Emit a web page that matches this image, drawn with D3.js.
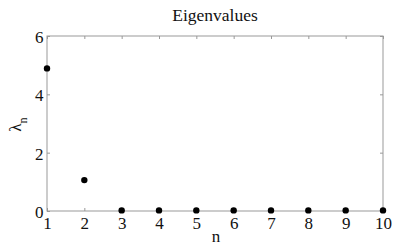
<!DOCTYPE html>
<html><head><meta charset="utf-8">
<script src="https://cdn.jsdelivr.net/npm/d3@7"></script>
<style>body{margin:0;background:#fff}svg{display:block}
svg text{font-family:"Liberation Serif","Times New Roman",serif !important;fill:#111}</style>
</head><body>
<script>
const n = [1,2,3,4,5,6,7,8,9,10];
const lambda = [4.89,1.06,0.02,0.02,0.02,0.02,0.02,0.02,0.02,0.02];
const xTicks = [1,2,3,4,5,6,7,8,9,10];
const yTicks = [0,2,4,6];

const W=394,H=246, L=47,R=383,T=36,B=211;
const svg=d3.select("body").append("svg").attr("width",W).attr("height",H);
const x=d3.scaleLinear().domain([1,10]).range([L,R]);
const y=d3.scaleLinear().domain([0,6]).range([B,T]);
const axCol="#999";

svg.append("rect").attr("x",L).attr("y",T).attr("width",R-L).attr("height",B-T)
  .attr("fill","none").attr("stroke",axCol).attr("stroke-width",1);

const bx=svg.append("g").attr("transform",`translate(0,${B})`)
  .call(d3.axisBottom(x).tickValues(xTicks).tickSize(-3).tickFormat(d3.format("d")));
const tx=svg.append("g").attr("transform",`translate(0,${T})`)
  .call(d3.axisTop(x).tickValues(xTicks).tickSize(-3).tickFormat(""));
const ly=svg.append("g").attr("transform",`translate(${L},0)`)
  .call(d3.axisLeft(y).tickValues(yTicks).tickSize(-3).tickFormat(d3.format("d")));
const ry=svg.append("g").attr("transform",`translate(${R},0)`)
  .call(d3.axisRight(y).tickValues(yTicks).tickSize(-3).tickFormat(""));
[bx,tx,ly,ry].forEach(a=>{
  a.select(".domain").remove();
  a.selectAll(".tick line").attr("stroke",axCol);
  a.attr("font-size",null).attr("font-family",null);
  a.selectAll("text").style("font-size","17px");
});
bx.selectAll("text").attr("y",18).attr("dy",0);
ly.selectAll("text").attr("x",-3.5).attr("dy",0).attr("y",6.5);

svg.append("g").selectAll("circle").data(n).join("circle")
  .attr("cx",(d)=>x(d)).attr("cy",(d,i)=>y(lambda[i])).attr("r",3.2).attr("fill","#000");

svg.append("text").attr("x",(L+R)/2).attr("y",21).attr("text-anchor","middle")
  .style("font-size","17.5px").text("Eigenvalues");
svg.append("text").attr("x",216).attr("y",241.5).attr("text-anchor","middle")
  .style("font-size","17px").text("n");
const yl=svg.append("text").attr("transform","translate(20.5,124.5) rotate(-90)").attr("text-anchor","middle")
  .style("font-size","17px");
yl.append("tspan").text("λ");
yl.append("tspan").attr("dy",6).style("font-size","12px").text("n");
</script>
</body></html>
